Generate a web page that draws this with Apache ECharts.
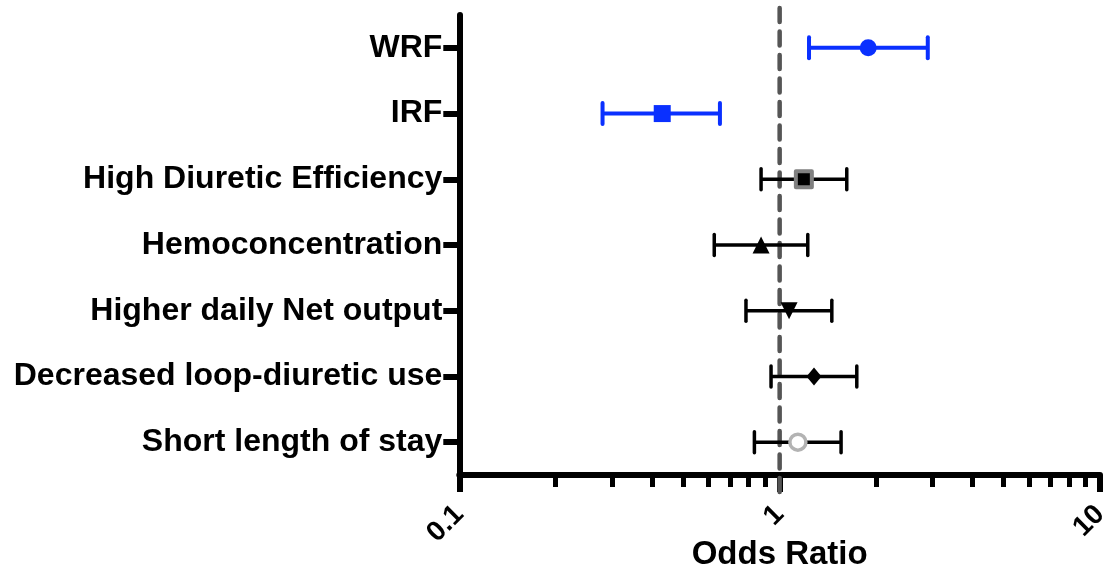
<!DOCTYPE html>
<html>
<head>
<meta charset="utf-8">
<script src="https://cdn.jsdelivr.net/npm/echarts@6/dist/echarts.min.js"></script>
<style>
html,body{margin:0;padding:0;background:#fff;}
#chart{width:1110px;height:571px;}
</style>
</head>
<body>
<div id="chart"></div>
<script>
// ---- data ----
const categories = ["WRF", "IRF", "High Diuretic Efficiency", "Hemoconcentration", "Higher daily Net output", "Decreased loop-diuretic use", "Short length of stay"];
const oddsRatio = [1.89, 0.43, 1.19, 0.875, 1.07, 1.28, 1.14];
const ciLow     = [1.235, 0.28, 0.875, 0.625, 0.785, 0.94, 0.834];
const ciHigh    = [2.90, 0.651, 1.62, 1.224, 1.455, 1.741, 1.555];
const majorTicks = [0.1, 1, 10];
const minorTicks = [0.2, 0.3, 0.4, 0.5, 0.6, 0.7, 0.8, 0.9, 2, 3, 4, 5, 6, 7, 8, 9];
const referenceValue = [1];

// ---- styles ----
const BLUE = '#0a30ff';
const barColors = [BLUE, BLUE, '#000', '#000', '#000', '#000', '#000'];
const markerStyles = [
  {symbol: 'circle', symbolSize: 17, itemStyle: {color: BLUE, opacity: 1}},
  {symbol: 'rect', symbolSize: 17, itemStyle: {color: BLUE, opacity: 1}},
  {symbol: 'rect', symbolSize: 16, itemStyle: {color: '#000', borderColor: '#808080', borderWidth: 4, borderJoin: 'round', opacity: 1}},
  {symbol: 'triangle', symbolSize: [17, 17], itemStyle: {color: '#000', opacity: 1}},
  {symbol: 'triangle', symbolSize: [17, 17], symbolRotate: 180, itemStyle: {color: '#000', opacity: 1}},
  {symbol: 'diamond', symbolSize: [15, 18], itemStyle: {color: '#000', opacity: 1}},
  {symbol: 'circle', symbolSize: 16, itemStyle: {color: '#fff', borderColor: '#b3b3b3', borderWidth: 3.5, opacity: 1}}
];

const FONT = '"Liberation Sans", Arial, Helvetica, sans-serif';

const chart = echarts.init(document.getElementById('chart'), null, {renderer: 'canvas'});

const barData = categories.map((c, i) => [ciLow[i], ciHigh[i], i]);
const pointData = categories.map((c, i) => Object.assign({value: [oddsRatio[i], i]}, markerStyles[i]));

const option = {
  animation: false,
  backgroundColor: '#fff',
  grid: {left: 459.3, right: 10, top: 15, bottom: 96, containLabel: false, outerBoundsMode: 'none'},
  xAxis: [
    {
      type: 'log', logBase: 10, min: 0.1, max: 10,
      name: 'Odds Ratio', nameLocation: 'middle', nameGap: 63, nameMoveOverlap: false,
      nameTextStyle: {fontFamily: FONT, fontWeight: 'bold', fontSize: 33, color: '#000'},
      axisLine: {show: true, lineStyle: {color: '#000', width: 6}},
      axisTick: {show: true, length: 17, lineStyle: {color: '#000', width: 6}, customValues: majorTicks},
      axisLabel: {show: true, rotate: 45, margin: 35, customValues: majorTicks,
        fontFamily: FONT, fontWeight: 'bold', fontSize: 28, color: '#000',
        formatter: v => String(Math.round(v * 10) / 10)},
      splitLine: {show: false}, minorTick: {show: false}, minorSplitLine: {show: false}
    },
    {
      type: 'log', logBase: 10, min: 0.1, max: 10, position: 'bottom', gridIndex: 0,
      axisLine: {show: false},
      axisTick: {show: true, length: 12, lineStyle: {color: '#000', width: 5}, customValues: minorTicks},
      axisLabel: {show: false},
      splitLine: {show: false}
    }
  ],
  yAxis: {
    type: 'category', data: categories, inverse: true,
    axisLine: {show: true, lineStyle: {color: '#000', width: 6}},
    axisTick: {show: true, alignWithLabel: true, length: 16, lineStyle: {color: '#000', width: 6}},
    axisLabel: {margin: 17, fontFamily: FONT, fontWeight: 'bold', fontSize: 32, color: '#000'},
    splitLine: {show: false}
  },
  series: [
    {
      type: 'custom', name: 'ref', xAxisIndex: 0, z: 1,
      data: referenceValue.map(v => [v]),
      encode: {x: 0},
      clip: false,
      renderItem: function (params, api) {
        const cs = params.coordSys;
        const x = api.coord([api.value(0), 0])[0];
        return {
          type: 'line', silent: true,
          shape: {x1: x, y1: cs.y - 9 + 2, x2: x, y2: cs.y + cs.height + 17},
          style: {stroke: '#555', lineWidth: 4.5, lineDash: [14, 9.5], lineCap: 'round'}
        };
      }
    },
    {
      type: 'custom', name: 'ci', xAxisIndex: 0, z: 2,
      data: barData,
      encode: {x: [0, 1], y: 2},
      renderItem: function (params, api) {
        const i = params.dataIndex;
        const yv = api.value(2);
        const lo = api.coord([api.value(0), yv]);
        const hi = api.coord([api.value(1), yv]);
        const col = barColors[i];
        const lw = col === BLUE ? 4 : 3.5;
        const cap = 10.5;
        return {
          type: 'group',
          children: [
            {type: 'line', shape: {x1: lo[0], y1: lo[1], x2: hi[0], y2: hi[1]}, style: {stroke: col, lineWidth: lw}},
            {type: 'line', shape: {x1: lo[0], y1: lo[1] - cap, x2: lo[0], y2: lo[1] + cap}, style: {stroke: col, lineWidth: lw, lineCap: 'round'}},
            {type: 'line', shape: {x1: hi[0], y1: hi[1] - cap, x2: hi[0], y2: hi[1] + cap}, style: {stroke: col, lineWidth: lw, lineCap: 'round'}}
          ]
        };
      }
    },
    {
      type: 'scatter', name: 'OR', xAxisIndex: 0, z: 3,
      data: pointData
    }
  ]
};
chart.setOption(option);
</script>
</body>
</html>
